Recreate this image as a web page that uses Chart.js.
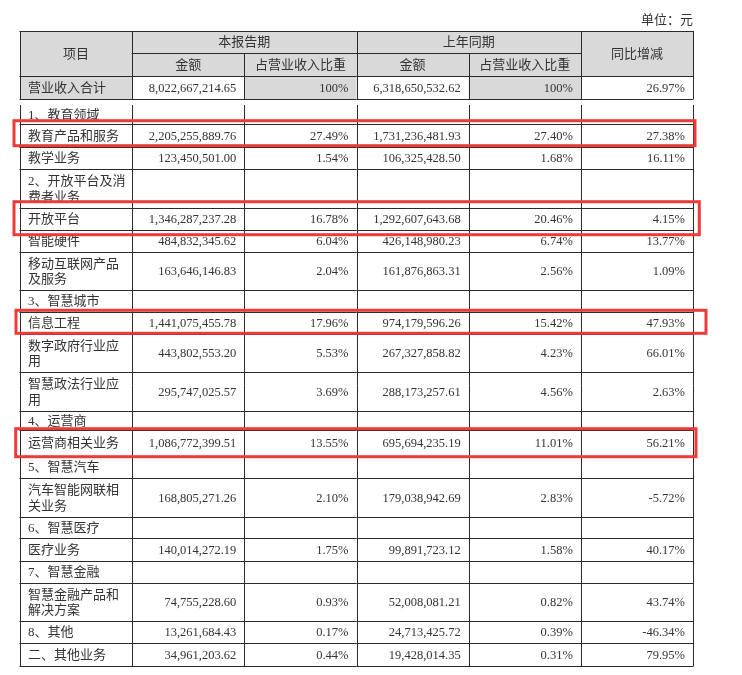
<!DOCTYPE html>
<html>
<head>
<meta charset="utf-8">
<script src="https://cdn.jsdelivr.net/npm/chart.js@4.4.1/dist/chart.umd.min.js"></script>
<style>
html, body { margin: 0; padding: 0; background: #fff; }
canvas { display: block; }
</style>
</head>
<body>
<canvas id="revenueTable" width="742" height="675"></canvas>
<script>
// 营业收入构成 (单位：元)
const items = ['营业收入合计', '1、教育领域', '教育产品和服务', '教学业务', '2、开放平台及消费者业务',
  '开放平台', '智能硬件', '移动互联网产品及服务', '3、智慧城市', '信息工程', '数字政府行业应用',
  '智慧政法行业应用', '4、运营商', '运营商相关业务', '5、智慧汽车', '汽车智能网联相关业务',
  '6、智慧医疗', '医疗业务', '7、智慧金融', '智慧金融产品和解决方案', '8、其他', '二、其他业务'];
const curAmount = [8022667214.65, null, 2205255889.76, 123450501.00, null, 1346287237.28, 484832345.62,
  163646146.83, null, 1441075455.78, 443802553.20, 295747025.57, null, 1086772399.51, null,
  168805271.26, null, 140014272.19, null, 74755228.60, 13261684.43, 34961203.62];
const curShare = [100, null, 27.49, 1.54, null, 16.78, 6.04, 2.04, null, 17.96, 5.53, 3.69, null,
  13.55, null, 2.10, null, 1.75, null, 0.93, 0.17, 0.44];
const prevAmount = [6318650532.62, null, 1731236481.93, 106325428.50, null, 1292607643.68, 426148980.23,
  161876863.31, null, 974179596.26, 267327858.82, 288173257.61, null, 695694235.19, null,
  179038942.69, null, 99891723.12, null, 52008081.21, 24713425.72, 19428014.35];
const prevShare = [100, null, 27.40, 1.68, null, 20.46, 6.74, 2.56, null, 15.42, 4.23, 4.56, null,
  11.01, null, 2.83, null, 1.58, null, 0.82, 0.39, 0.31];
const yoyChange = [26.97, null, 27.38, 16.11, null, 4.15, 13.77, 1.09, null, 47.93, 66.01, 2.63, null,
  56.21, null, -5.72, null, 40.17, null, 43.74, -46.34, 79.95];

const headTop = ['项目', '本报告期', '上年同期', '同比增减'];
const headSub = ['金额', '占营业收入比重', '金额', '占营业收入比重'];
const unitNote = '单位：元';
const highlighted = ['教育产品和服务', '开放平台', '信息工程', '运营商相关业务'];

// layout: row heights along the y axis, gap after the total row, red box offsets [l, r, t, b]
const headH = [22, 23];
const gapH = 6;
const rowH = [23, 19, 23, 22, 39, 22, 22, 38, 22, 22, 38, 39, 19, 26, 22, 39, 21, 23, 22, 38, 22, 23];
const boxPad = [[6, 2, 3.3, -1.3], [6, 6.3, 6.3, 4.7], [4, 13, 1.7, -0.7], [4.3, 3, 1.3, 0.7]];

const sum = a => a.reduce((s, v) => s + v, 0);
const totalH = sum(headH) + gapH + sum(rowH);

const cnFont = '13px "Liberation Serif", "Noto Sans CJK SC"';
const numFont = '12.5px "Liberation Serif", "Noto Sans CJK SC"';
const ink = '#333';
const rule = '#2a2a2a';
const shade = '#d9d9d9';

const fmtAmount = v => v.toLocaleString('en-US', { minimumFractionDigits: 2, maximumFractionDigits: 2 });
const fmtPct = v => (v === 100 ? '100' : v.toFixed(2)) + '%';

function wrap(ctx, text, maxW) {
  const lines = [];
  let cur = '';
  for (const ch of text) {
    if (cur && ctx.measureText(cur + ch).width > maxW) { lines.push(cur); cur = ch; }
    else cur += ch;
  }
  lines.push(cur);
  return lines;
}

const tablePlugin = {
  id: 'tableCells',
  afterDraw(chart) {
    const { ctx, scales: { x, y } } = chart;
    const X = c => x.getPixelForValue(c);
    const Y = v => y.getPixelForValue(v);
    const crisp = p => Math.round(p) + 0.5;

    // row edges in axis units
    const tops = [];
    let acc = sum(headH);
    rowH.forEach((h, i) => {
      tops.push(acc);
      acc += h;
      if (i === 0) acc += gapH;
    });

    ctx.save();

    // shaded cells
    ctx.fillStyle = shade;
    ctx.fillRect(X(0), Y(0), X(6) - X(0), Y(sum(headH)) - Y(0));
    [0, 2, 4].forEach(c => {
      ctx.fillRect(X(c), Y(tops[0]), X(c + 1) - X(c), Y(tops[0] + rowH[0]) - Y(tops[0]));
    });

    // texts
    ctx.fillStyle = ink;
    ctx.textBaseline = 'middle';
    ctx.font = cnFont;
    ctx.textAlign = 'center';
    const hMid = (Y(0) + Y(sum(headH))) / 2 + 1;
    const r0 = (Y(0) + Y(headH[0])) / 2 + 1;
    const r1 = (Y(headH[0]) + Y(sum(headH))) / 2 + 1;
    ctx.fillText(headTop[0], (X(0) + X(1)) / 2, hMid);
    ctx.fillText(headTop[1], (X(1) + X(3)) / 2, r0);
    ctx.fillText(headTop[2], (X(3) + X(5)) / 2, r0);
    ctx.fillText(headTop[3], (X(5) + X(6)) / 2, hMid);
    headSub.forEach((t, i) => ctx.fillText(t, (X(i + 1) + X(i + 2)) / 2, r1));

    ctx.textAlign = 'right';
    ctx.fillText(unitNote, X(6), Y(0) - 10);

    const cols = [curAmount, curShare, prevAmount, prevShare, yoyChange];
    items.forEach((name, i) => {
      const mid = (Y(tops[i]) + Y(tops[i] + rowH[i])) / 2 + 1;
      ctx.font = cnFont;
      ctx.textAlign = 'left';
      const lines = wrap(ctx, name, X(1) - X(0) - 12);
      const lh = 15.5;
      lines.forEach((ln, k) => {
        ctx.fillText(ln, X(0) + 8, mid + (k - (lines.length - 1) / 2) * lh);
      });
      ctx.font = numFont;
      ctx.textAlign = 'right';
      cols.forEach((arr, c) => {
        const v = arr[i];
        if (v === null) return;
        ctx.fillText(c % 2 === 0 && c < 4 ? fmtAmount(v) : fmtPct(v), X(c + 2) - 8, mid);
      });
    });

    // rules
    ctx.strokeStyle = rule;
    ctx.lineWidth = 1;
    const hLine = (v, c0, c1) => {
      ctx.beginPath();
      ctx.moveTo(X(c0) - 0.5, crisp(Y(v)));
      ctx.lineTo(X(c1) + 0.5, crisp(Y(v)));
      ctx.stroke();
    };
    const vLine = (c, v0, v1) => {
      ctx.beginPath();
      ctx.moveTo(crisp(X(c)), Y(v0));
      ctx.lineTo(crisp(X(c)), Y(v1));
      ctx.stroke();
    };
    // header block + total row
    hLine(0, 0, 6);
    hLine(headH[0], 1, 5);
    hLine(sum(headH), 0, 6);
    hLine(tops[0] + rowH[0], 0, 6);
    [0, 1, 3, 5, 6].forEach(c => vLine(c, 0, tops[0] + rowH[0]));
    [2, 4].forEach(c => {
      vLine(c, headH[0], sum(headH));
      vLine(c, tops[0], tops[0] + rowH[0]);
    });
    // detail rows
    for (let i = 1; i < items.length; i++) hLine(tops[i] + rowH[i], 0, 6);
    for (let c = 0; c <= 6; c++) vLine(c, tops[1], totalH);

    // red highlight boxes
    ctx.strokeStyle = '#ef3a3a';
    ctx.lineWidth = 3;
    highlighted.forEach((name, k) => {
      const i = items.indexOf(name);
      const [l, r, t, b] = boxPad[k];
      const x0 = X(0) - l, x1 = X(6) + r;
      const y0 = Y(tops[i]) - t, y1 = Y(tops[i] + rowH[i]) + b;
      ctx.strokeRect(x0, y0, x1 - x0, y1 - y0);
    });

    ctx.restore();
  }
};

new Chart(document.getElementById('revenueTable').getContext('2d'), {
  type: 'scatter',
  data: { datasets: [] },
  options: {
    responsive: false,
    animation: false,
    layout: { padding: { left: 20, top: 31, right: 49, bottom: 9 } },
    plugins: {
      legend: { display: false },
      tooltip: { enabled: false }
    },
    scales: {
      x: { type: 'linear', min: 0, max: 6, display: false },
      y: { type: 'linear', min: 0, max: totalH, reverse: true, display: false }
    }
  },
  plugins: [tablePlugin]
});
</script>
</body>
</html>
